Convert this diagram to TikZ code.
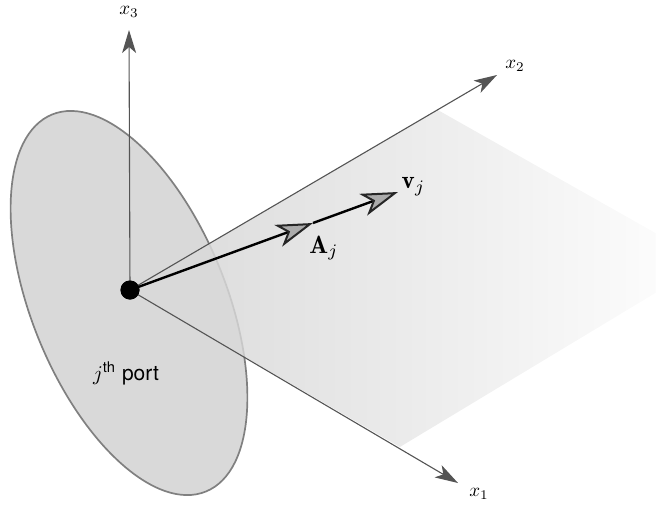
\documentclass[tikz,border=0pt]{standalone}
\usepackage{fontspec}
\setsansfont{TeX Gyre Heros}
\usetikzlibrary{arrows.meta,fadings}
\definecolor{axisgray}{gray}{0.33}
\tikzfading[name=portfade,left color=transparent!0,right color=transparent!100]
\tikzset{
  axisline/.style={draw=axisgray,line width=1.1pt,-{Stealth[length=23pt,width=14pt,inset=6pt,fill=axisgray]}},
  vecline/.style={draw=black,line width=2.4pt,-{Stealth[length=37pt,width=23pt,inset=10pt,fill=black!33,color=black!85,line width=2pt]}},
  portdisc/.style={fill=black!15,draw=black!50,line width=1.7pt},
  axislabel/.style={inner sep=0pt},
  veclabel/.style={inner sep=0pt}
}
\newcommand{\lblsmall}[1]{\scalebox{1.9}{$#1$}}
\newcommand{\lblbig}[1]{\scalebox{2.5}{$#1$}}
\begin{document}
\begin{tikzpicture}[x=1pt,y=-1pt]
\useasboundingbox (0,0) rectangle (656,504);
\draw[portdisc] (129,303) ellipse[x radius=97.2,y radius=203.6,rotate=22.2];
\path[fill=black!15,path fading=portfade,fit fading=true] (130,290) -- (438,110) -- (707,262) -- (400,447) -- cycle;
\node[circle,fill=black,minimum size=19pt,inner sep=0pt] (o) at (130,290) {};
\coordinate (e3) at (129,30);
\coordinate (e2) at (497,75);
\coordinate (e1) at (458,483);
\coordinate (a) at (313,223);
\coordinate (v) at (398,192);
\draw[axisline] (o.center) -- (e3);
\draw[axisline] (o.center) -- (e2);
\draw[axisline] (o.center) -- (e1);
\draw[vecline] (o.center) -- (a);
\draw[vecline] (a) -- (v);
\node[circle,fill=black,minimum size=19pt,inner sep=0pt] at (o) {};
\node[axislabel] (l3) at (129,12) {\lblsmall{x_3}};
\node[axislabel] (l2) at (515,66) {\lblsmall{x_2}};
\node[axislabel] (l1) at (479,494) {\lblsmall{x_1}};
\node[veclabel] (lv) at (413.5,187) {\lblbig{\mathbf{v}_j}};
\node[veclabel] (la) at (324,248) {\lblbig{\mathbf{A}_j}};
\node[inner sep=0pt] (lp) at (126,373.5) {\scalebox{2.1}{\sffamily $j$\textsuperscript{th} port}};
\end{tikzpicture}
\end{document}
